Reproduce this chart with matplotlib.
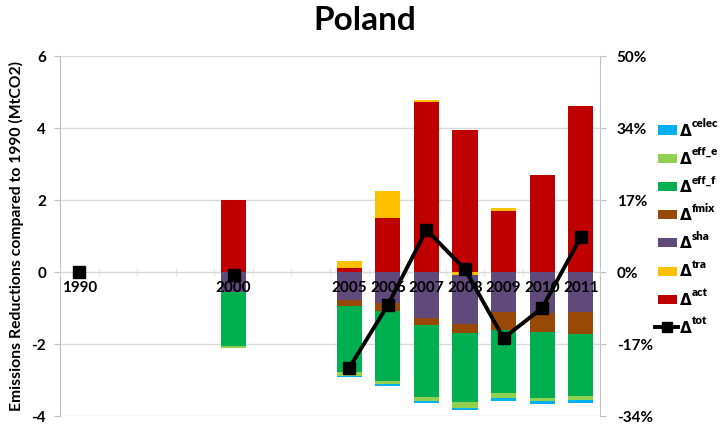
import numpy as np
import matplotlib
matplotlib.use("Agg")
import matplotlib.pyplot as plt
from matplotlib.patches import Rectangle
from matplotlib.lines import Line2D

plt.rcParams['font.family'] = ['Lato', 'DejaVu Sans']

# ---------------- data ----------------
categories = ["1990", "", "", "", "2000", "", "", "2005", "2006", "2007",
              "2008", "2009", "2010", "2011"]
nan = np.nan
act   = [0.00, nan, nan, nan, 2.01, nan, nan, 0.11, 1.51, 4.72, 3.95, 1.69, 2.70, 4.61]
tra   = [0.00, nan, nan, nan, 0.00, nan, nan, 0.21, 0.76, 0.07, -0.08, 0.11, 0.00, 0.00]
sha   = [0.00, nan, nan, nan, -0.55, nan, nan, -0.78, -0.85, -1.26, -1.36, -1.10, -1.13, -1.10]
fmix  = [0.00, nan, nan, nan, 0.00, nan, nan, -0.15, -0.22, -0.21, -0.25, -0.51, -0.53, -0.60]
eff_f = [0.00, nan, nan, nan, -1.50, nan, nan, -1.85, -1.94, -1.99, -1.92, -1.74, -1.83, -1.73]
eff_e = [0.00, nan, nan, nan, -0.05, nan, nan, -0.09, -0.09, -0.11, -0.16, -0.14, -0.08, -0.12]
celec = [0.00, nan, nan, nan, 0.00, nan, nan, -0.05, -0.05, -0.06, -0.06, -0.08, -0.09, -0.09]
tot   = [0.00, nan, nan, nan, -0.08, nan, nan, -2.65, -0.91, 1.18, 0.08, -1.83, -0.99, 0.97]

left_ticks = [-4, -2, 0, 2, 4, 6]
right_labels = ["-34%", "-17%", "0%", "17%", "34%", "50%"]

# stacking order (Excel series order) and styles
series = [("act", act, "#C00000"), ("tra", tra, "#FFC000"), ("sha", sha, "#604A7B"),
          ("fmix", fmix, "#984807"), ("eff_f", eff_f, "#00B050"),
          ("eff_e", eff_e, "#92D050"), ("celec", celec, "#00B0F0")]

W, H = 725, 424
fig = plt.figure(figsize=(W / 100, H / 100), dpi=100)
ax = fig.add_axes([60 / W, (H - 416.3) / H, 540 / W, 360 / H])

x = np.arange(len(categories))
pos_bottom = np.zeros(len(x))
neg_bottom = np.zeros(len(x))
for name, vals, col in series:
    v = np.nan_to_num(np.array(vals, dtype=float))
    bottom = np.where(v >= 0, pos_bottom, neg_bottom)
    ax.bar(x, v, width=0.65, bottom=bottom, color=col, zorder=2, linewidth=0)
    pos_bottom = pos_bottom + np.where(v > 0, v, 0)
    neg_bottom = neg_bottom + np.where(v < 0, v, 0)

ax.plot(x, tot, color="black", lw=2.8, marker="s", ms=8, zorder=6)

ax.set_xlim(-0.5, len(categories) - 0.5)
ax.set_ylim(-4, 6)
ax.set_yticks(left_ticks)
ax.set_yticklabels([str(t) for t in left_ticks], fontweight="bold", fontsize=11)
ax.set_axisbelow(True)
ax.yaxis.grid(True, color="#D9D9D9", lw=1)
ax.tick_params(axis="y", length=4, color="#BFBFBF", pad=6)

# x axis at zero with category-boundary ticks
ax.spines['bottom'].set_position(('data', 0))
ax.spines['bottom'].set_color("#D9D9D9")
ax.spines['bottom'].set_zorder(1)
ax.spines['top'].set_visible(False)
for s in ("left", "right"):
    ax.spines[s].set_color("#BFBFBF")
ax.set_xticks(x)
ax.set_xticklabels(categories, fontweight="bold", fontsize=11)
ax.set_xticks(np.arange(len(categories) + 1) - 0.5, minor=True)
ax.tick_params(axis="x", which="major", length=0, pad=6)
ax.tick_params(axis="x", which="minor", length=6, direction="inout", color="#D9D9D9")
ax.xaxis.set_zorder(5)

ax.set_ylabel("Emissions Reductions compared to 1990 (MtCO2)", fontweight="bold",
              fontsize=11.3, labelpad=5)

ax2 = ax.twinx()
ax2.set_ylim(ax.get_ylim())
ax2.set_yticks(left_ticks)
ax2.set_yticklabels(right_labels, fontweight="bold", fontsize=11)
ax2.tick_params(axis="y", length=4, color="#BFBFBF", pad=8)
for s in ("left", "right", "top", "bottom"):
    ax2.spines[s].set_visible(False)

fig.text(365 / W, 1 - 20 / H, "Poland", ha="center", va="center",
         fontsize=24, fontweight="bold")

# ---------------- legend (drawn manually) ----------------
leg_items = [(name, col) for name, vals, col in reversed(series)] + [("tot", None)]
fig.canvas.draw()
renderer = fig.canvas.get_renderer()
for i, (name, col) in enumerate(leg_items):
    yc = 130 + 28.2 * i          # pixel row from top
    yf = 1 - yc / H
    if col is not None:
        fig.add_artist(Rectangle((658 / W, yf - 4.5 / H), 19 / W, 9 / H,
                                 transform=fig.transFigure, facecolor=col,
                                 edgecolor="none"))
    else:
        fig.add_artist(Line2D([655 / W, 678 / W], [yf, yf], transform=fig.transFigure,
                              color="black", lw=2.8))
        fig.add_artist(Line2D([666.5 / W], [yf], transform=fig.transFigure,
                              color="black", marker="s", ms=7, lw=0))
    d = fig.text(680 / W, 1 - (yc + 5.5) / H, "Δ", family="DejaVu Sans",
                 fontweight="bold", fontsize=11, va="baseline", ha="left")
    bb = d.get_window_extent(renderer)
    fig.text((bb.x1 + 0.5) / W, 1 - (yc - 3) / H, name, fontweight="heavy",
             fontsize=8.3, va="baseline", ha="left")

fig.savefig("out.png", dpi=100)
